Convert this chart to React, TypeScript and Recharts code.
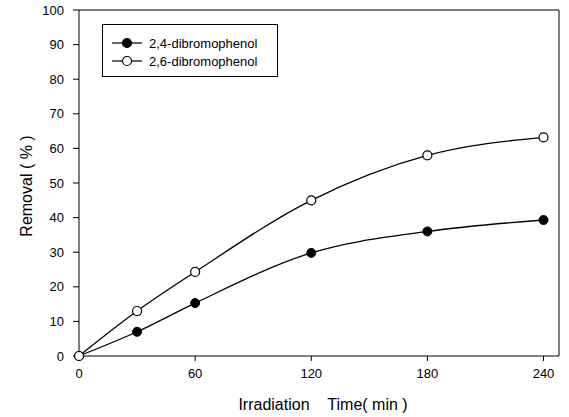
import {
  LineChart,
  Line,
  XAxis,
  YAxis,
  Label,
  ReferenceLine,
} from "recharts";

const times = [0, 30, 60, 120, 180, 240];
const dibromo24 = [0, 7, 15.3, 29.8, 36, 39.3];
const dibromo26 = [0, 13, 24.3, 45, 58, 63.2];
const xTicks = [0, 60, 120, 180, 240];
const yTicks = [0, 10, 20, 30, 40, 50, 60, 70, 80, 90, 100];
const seriesNames = ["2,4-dibromophenol", "2,6-dibromophenol"];

const data = times.map((t, i) => ({
  time: t,
  d24: dibromo24[i],
  d26: dibromo26[i],
}));

const font = "'Liberation Sans', Arial, sans-serif";

function LegendBox() {
  const fills = ["#000", "#fff"];
  return (
    <div
      style={{
        position: "absolute",
        left: 102,
        top: 24,
        border: "1px solid #000",
        width: 176,
        height: 53,
        padding: "9px 0 0 9px",
        boxSizing: "border-box",
        fontFamily: font,
        fontSize: 13,
        color: "#000",
        background: "#fff",
      }}
    >
      {seriesNames.map((name, i) => (
        <div key={name} style={{ display: "flex", alignItems: "center", height: 18 }}>
          <svg width={32} height={12}>
            <line x1={0} y1={6} x2={30} y2={6} stroke="#000" strokeWidth={1.2} />
            <circle cx={15} cy={6} r={4.5} fill={fills[i]} stroke="#000" strokeWidth={1.2} />
          </svg>
          <span style={{ marginLeft: 5 }}>{name}</span>
        </div>
      ))}
    </div>
  );
}

export default function App() {
  return (
    <div style={{ position: "absolute", left: 0, top: 0, width: 569, height: 417, background: "#fff" }}>
      <LineChart
        width={569}
        height={417}
        data={data}
        margin={{ top: 10, right: 10, left: 29, bottom: 1 }}
      >
        <XAxis
          dataKey="time"
          type="number"
          domain={[0, 248]}
          ticks={xTicks}
          stroke="#000"
          tickSize={5}
          tickMargin={8}
          height={60}
          tick={{ fill: "#000", fontSize: 13, fontFamily: font }}
        >
          <Label
            value={"Irradiation\u00a0\u00a0\u00a0\u00a0Time(\u00a0min\u00a0)"}
            position="insideBottom"
            offset={6}
            dx={4}
            style={{ fill: "#000", fontSize: 16, fontFamily: font }}
          />
        </XAxis>
        <YAxis
          type="number"
          domain={[0, 100]}
          ticks={yTicks}
          stroke="#000"
          tickSize={6}
          tickMargin={9}
          width={50}
          interval={0}
          tick={{ fill: "#000", fontSize: 13, fontFamily: font }}
        >
          <Label
            value="Removal ( % )"
            angle={-90}
            position="insideLeft"
            offset={-3}
            dy={3}
            style={{ fill: "#000", fontSize: 16, fontFamily: font, textAnchor: "middle" }}
          />
        </YAxis>
        <ReferenceLine y={100} stroke="#000" />
        <ReferenceLine x={248} stroke="#000" />
        <Line
          dataKey="d24"
          name={seriesNames[0]}
          type="monotone"
          stroke="#000"
          strokeWidth={1.3}
          dot={{ r: 4.5, fill: "#000", stroke: "#000", strokeWidth: 1 }}
          isAnimationActive={false}
        />
        <Line
          dataKey="d26"
          name={seriesNames[1]}
          type="monotone"
          stroke="#000"
          strokeWidth={1.3}
          dot={{ r: 4.5, fill: "#fff", stroke: "#000", strokeWidth: 1.2 }}
          isAnimationActive={false}
        />
      </LineChart>
      <LegendBox />
    </div>
  );
}
